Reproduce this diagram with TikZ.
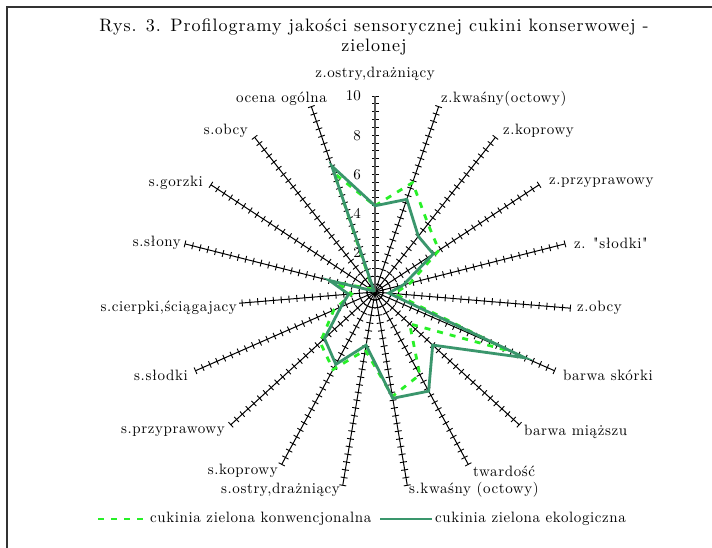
\documentclass[tikz,border=0pt]{standalone}
\usepackage{fontspec}
\setmainfont{lmroman10-regular.otf}[BoldFont=lmroman10-bold.otf, ItalicFont=lmroman10-italic.otf]
\newfontfamily\lblfont{lmroman10-regular.otf}[LetterSpace=4]
\newfontfamily\ttlfont{lmroman10-regular.otf}[LetterSpace=5.5]
\usetikzlibrary{calc}
\definecolor{eko}{RGB}{58,150,108}
\definecolor{konw}{RGB}{40,240,40}
\tikzset{
  spoke/.style={line width=1pt, black},
  spoketick/.style={line width=0.9pt, black},
  ekoline/.style={line width=2.8pt, eko, line join=miter},
  konwline/.style={line width=2.8pt, konw, dash pattern=on 6pt off 7pt},
  lbl/.style={font=\lblfont\fontsize{15}{17}\selectfont, inner sep=0pt},
  numlbl/.style={font=\fontsize{15}{17}\selectfont, inner sep=0pt, anchor=east},
  ttl/.style={font=\ttlfont\fontsize{18}{21}\selectfont, inner sep=0pt},
}
\begin{document}
\begin{tikzpicture}[x=1pt,y=1pt]
\useasboundingbox (0,0) rectangle (712,547);
\fill[white] (0,0) rectangle (712,547);
% outer frame (cut off at the right and bottom)
\draw[line width=1.6pt, black!80] (7,-5) |- (725,540);

% title
\node[ttl] (title1) at (374,520) {Rys. 3. Profilogramy jakości sensorycznej cukini konserwowej -};
\node[ttl] (title2) at (374,500) {zielonej};

% chart centre
\coordinate (C) at (375,255);

% spokes with tick marks
\foreach \k in {0,...,18} {
  \begin{scope}[shift={(C)}, rotate={90-\k*360/19}]
    \draw[spoke] (0,0) -- (196,0);
    \foreach \t in {1,...,25} {
      \draw[spoketick] ({\t*7.84},-3.5) -- ({\t*7.84},3.5);
    }
  \end{scope}
}
\draw[line width=1.6pt, black!65] (C) -- ++(0,196);

% value labels on the vertical axis
\foreach \v in {2,4,6,8,10} {
  \node[numlbl] (n\v) at (361,{255+\v*19.6}) {\v};
}

% data: conventional (dashed) and organic (solid)
\foreach \v [count=\i from 0] in {4.4,5.9,4.4,3.9,1.85,1.0,7.5,2.4,4.8,5.4,3.0,4.5,3.8,2.3,1.2,2.0,0.3,0.2,6.4} {
  \coordinate (k\i) at ([shift={({90-\i*360/19}:{\v*19.6})}]C);
}
\foreach \v [count=\i from 0] in {4.4,5.0,3.6,3.55,1.5,0.7,8.35,4.0,5.75,5.5,2.75,4.2,3.5,1.9,1.35,2.4,0.1,0.1,6.8} {
  \coordinate (e\i) at ([shift={({90-\i*360/19}:{\v*19.6})}]C);
}
\draw[konwline] (k0) \foreach \i in {1,...,18} { -- (k\i) } -- cycle;
\draw[ekoline] (e0) \foreach \i in {1,...,18} { -- (e\i) } -- cycle;

% category labels
\node[lbl] (a0)  at (375,473) {z.ostry,drażniący};
\node[lbl, anchor=west] (a1)  at (441,448) {z.kwaśny(octowy)};
\node[lbl, anchor=west] (a2)  at (503,416) {z.koprowy};
\node[lbl, anchor=west] (a3)  at (549,364) {z.przyprawowy};
\node[lbl, anchor=west] (a4)  at (574,304) {z. "słodki"};
\node[lbl, anchor=west] (a5)  at (577,239) {z.obcy};
\node[lbl, anchor=west] (a6)  at (563,172) {barwa skórki};
\node[lbl, anchor=west] (a7)  at (524,115) {barwa miąższu};
\node[lbl, anchor=west] (a8)  at (473,76)  {twardość};
\node[lbl, anchor=west] (a9)  at (409,57)  {s.kwaśny (octowy)};
\node[lbl, anchor=east] (a10) at (340,57)  {s.ostry,drażniący};
\node[lbl, anchor=east] (a11) at (278,76)  {s.koprowy};
\node[lbl, anchor=east] (a12) at (225,115) {s.przyprawowy};
\node[lbl, anchor=east] (a13) at (188,172) {s.słodki};
\node[lbl, anchor=east, fill=white, inner sep=2pt] (a14) at (239,239) {s.cierpki,ściągajacy};
\node[lbl, anchor=east] (a15) at (181,304) {s.słony};
\node[lbl, anchor=east] (a16) at (203,364) {s.gorzki};
\node[lbl, anchor=east] (a17) at (248,416) {s.obcy};
\node[lbl, anchor=east] (a18) at (327,448) {ocena ogólna};

% legend
\coordinate (lk1) at (98,28);
\coordinate (lk2) at (146,28);
\draw[konwline] (lk1) -- (lk2);
\node[lbl, anchor=west] (lgk) at (150,28) {cukinia zielona konwencjonalna};
\coordinate (le1) at (380,28);
\coordinate (le2) at (432,28);
\draw[ekoline] (le1) -- (le2);
\node[lbl, anchor=west] (lge) at (435,28) {cukinia zielona ekologiczna};
\end{tikzpicture}
\end{document}
